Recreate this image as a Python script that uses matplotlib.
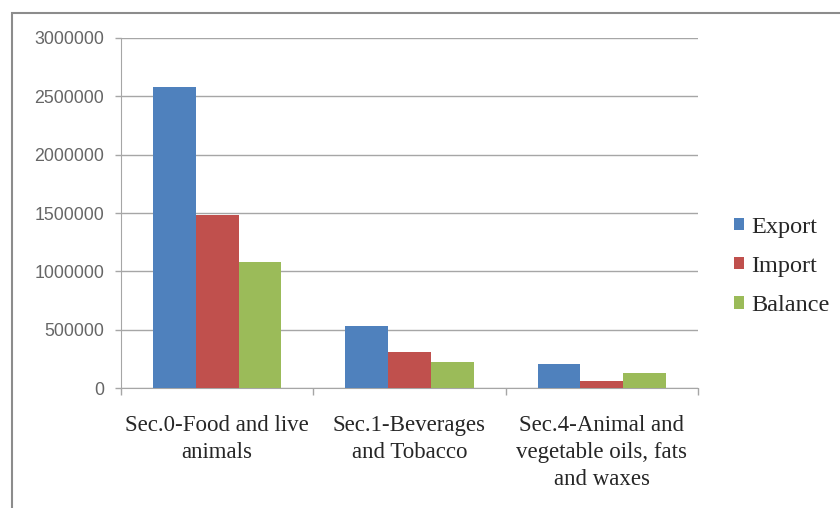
import matplotlib
matplotlib.use("Agg")
import matplotlib.pyplot as plt
import numpy as np
from matplotlib.patches import Rectangle

categories = ["Sec.0-Food and live\nanimals",
              "Sec.1-Beverages\nand Tobacco",
              "Sec.4-Animal and\nvegetable oils, fats\nand waxes"]
series_names = ["Export", "Import", "Balance"]
export_vals = [2575000, 536000, 205000]
import_vals = [1483000, 308000, 62000]
balance_vals = [1078000, 222000, 134000]
yticks = [0, 500000, 1000000, 1500000, 2000000, 2500000, 3000000]
colors = ["#4F81BD", "#C0504D", "#9BBB59"]

fig = plt.figure(figsize=(8.4, 5.08), dpi=100)
fig.patch.set_facecolor("white")
# outer chart border (left and top visible)
fig.patches.append(Rectangle((12/840, -0.1), 1.2, 1 - 13/508 + 0.1,
                             transform=fig.transFigure, fill=False,
                             edgecolor="#8C8C8C", linewidth=1.5))

ax = fig.add_axes([121/840, 1 - 388.3/508, (698-121)/840, (388.3-37.7)/508])
x = np.arange(len(categories))
w = 0.222
for i, (vals, name) in enumerate(zip([export_vals, import_vals, balance_vals], series_names)):
    ax.bar(x + (i - 1) * w, vals, width=w, color=colors[i], label=name, zorder=3)

ax.set_xlim(-0.5, len(categories) - 0.5)
ax.set_ylim(0, 3000000)
ax.set_yticks(yticks)
ax.set_yticklabels([str(v) for v in yticks], fontsize=12.8, color="#666666",
                   family="Liberation Sans")
ax.grid(axis="y", color="#A6A6A6", linewidth=1, zorder=0)
ax.tick_params(axis="y", length=4, color="#A6A6A6", pad=8, width=1)

ax.set_xticks(x)
ax.set_xticklabels(categories, fontsize=16.5, family="Liberation Serif",
                   color="#262626", linespacing=1.36)
ax.tick_params(axis="x", length=0, pad=19.5)
ax.set_xticks(np.arange(-0.5, len(categories)), minor=True)
ax.tick_params(axis="x", which="minor", length=5, color="#A6A6A6", width=1)

for s in ["top", "right"]:
    ax.spines[s].set_visible(False)
ax.spines["left"].set_color("#A6A6A6")
ax.spines["bottom"].set_color("#A6A6A6")

leg = ax.legend(loc="center left", bbox_to_anchor=(734/840, 1 - 266.5/508),
                bbox_transform=fig.transFigure, frameon=False,
                prop={"family": "Liberation Serif", "size": 17.5},
                handlelength=0.4, handleheight=0.4, handletextpad=0.3,
                labelspacing=0.75, borderaxespad=0, borderpad=0)
for t in leg.get_texts():
    t.set_color("#262626")

fig.savefig("out.png", dpi=100, facecolor="white")
